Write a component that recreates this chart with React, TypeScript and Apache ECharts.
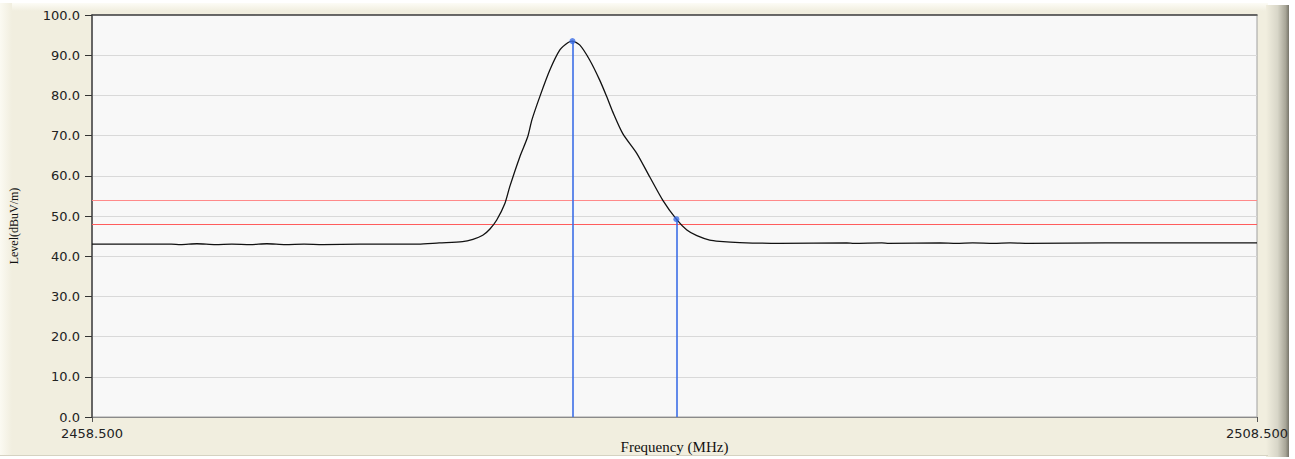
import React, { useEffect, useRef } from "react";
import * as echarts from "echarts";

// Spectrum trace (frequency in MHz, level in dBuV/m)
const freqMHz = [
  2458.5, 2460.0, 2461.9, 2462.3, 2463.0, 2463.8, 2464.5, 2465.3, 2466.0, 2466.8,
  2467.6, 2468.4, 2470.0, 2472.5, 2473.4, 2474.4, 2474.85, 2475.27, 2475.57, 2475.87,
  2476.22, 2476.43, 2476.86, 2477.2, 2477.38, 2477.72, 2478.15, 2478.58, 2478.92, 2479.12,
  2479.44, 2479.86, 2480.29, 2480.59, 2480.85, 2481.28, 2481.88, 2482.44, 2483.0, 2483.58,
  2484.03, 2484.46, 2485.01, 2485.44, 2486.3, 2488.0, 2490.9, 2491.2, 2492.4, 2492.7,
  2494.9, 2495.6, 2496.3, 2497.2, 2497.9, 2498.7, 2502.0, 2505.0, 2508.5,
];
const levelDb = [
  43.0, 43.0, 43.0, 42.9, 43.1, 42.9, 43.0, 42.9, 43.1, 42.9,
  43.0, 42.9, 43.0, 43.0, 43.3, 43.6, 44.2, 45.2, 46.7, 49.0,
  53.1, 57.3, 64.7, 69.7, 73.9, 79.7, 86.3, 91.3, 93.1, 93.5,
  92.5, 88.8, 83.8, 79.7, 75.9, 70.5, 65.6, 59.7, 53.9, 49.2,
  46.5, 45.1, 44.0, 43.7, 43.4, 43.2, 43.3, 43.2, 43.3, 43.2,
  43.3, 43.2, 43.3, 43.2, 43.3, 43.2, 43.3, 43.3, 43.3,
];

// Markers (peak and edge)
const markerFreq = [2479.12, 2483.58];
const markerLevel = [93.5, 49.2];

// Limit lines
const limitLevels = [54.0, 48.0];
const limitColors = ["#FF8A8A", "#FF5C5C"];

// Axes
const xMin = 2458.5;
const xMax = 2508.5;
const xTickValues = [2458.5, 2508.5];
const yMin = 0;
const yMax = 100;
const yStep = 10;

const BEIGE = "#F1EEDF";

export default function App() {
  const ref = useRef<HTMLDivElement>(null);

  useEffect(() => {
    if (!ref.current) return;
    const chart = echarts.init(ref.current, null, { renderer: "svg" });
    const trace = freqMHz.map((f, i) => [f, levelDb[i]]);
    const markers = markerFreq.map((f, i) => [f, markerLevel[i]]);

    chart.setOption({
      animation: false,
      backgroundColor: "#FFFFFF",
      graphic: [
        { type: "rect", z: -10, silent: true, shape: { x: 0, y: 3, width: 1268, height: 452 }, style: { fill: BEIGE } },
        {
          type: "rect", z: -9, silent: true,
          shape: { x: 0, y: 3, width: 1268, height: 8 },
          style: { fill: new echarts.graphic.LinearGradient(0, 0, 0, 1, [{ offset: 0, color: "#FDFCF6" }, { offset: 1, color: BEIGE }]) },
        },
        {
          type: "rect", z: -9, silent: true,
          shape: { x: 0, y: 3, width: 12, height: 452 },
          style: { fill: new echarts.graphic.LinearGradient(0, 0, 1, 0, [{ offset: 0, color: "#FBFAF2" }, { offset: 1, color: BEIGE }]) },
        },
        {
          type: "rect", z: -9, silent: true,
          shape: { x: 1266, y: 5, width: 23, height: 452 },
          style: {
            fill: new echarts.graphic.LinearGradient(0, 0, 1, 0, [
              { offset: 0, color: BEIGE },
              { offset: 0.5, color: "#D8D6C8" },
              { offset: 0.85, color: "#A8A698" },
              { offset: 1, color: "#77756A" },
            ]),
          },
        },
        { type: "rect", z: -9, silent: true, shape: { x: 0, y: 455, width: 1268, height: 1 }, style: { fill: "#D5D2C2" } },
      ],
      grid: {
        left: 92, top: 15, width: 1165, height: 402,
        outerBoundsMode: "none", containLabel: false,
        show: true, backgroundColor: "#F8F8F8", borderColor: "#A0A0A0", borderWidth: 1,
      },
      xAxis: [
        {
          type: "value", min: xMin, max: xMax,
          name: "Frequency (MHz)", nameLocation: "middle", nameGap: 22, nameMoveOverlap: false,
          nameTextStyle: { fontFamily: "Liberation Serif", fontSize: 15, color: "#111" },
          axisLine: { show: true, lineStyle: { color: "#8A8A8A", width: 1 } },
          axisTick: { show: true, length: 5, customValues: xTickValues, lineStyle: { color: "#555" } },
          axisLabel: {
            customValues: xTickValues, margin: 10,
            fontFamily: "DejaVu Sans", fontSize: 13, color: "#222",
            formatter: (v: number) => v.toFixed(3),
          },
          splitLine: { show: false },
        },
        {
          type: "value", position: "top", min: xMin, max: xMax,
          axisLine: { show: true, lineStyle: { color: "#444", width: 1.5 } },
          axisTick: { show: false }, axisLabel: { show: false }, splitLine: { show: false },
        },
      ],
      yAxis: {
        type: "value", min: yMin, max: yMax, interval: yStep,
        name: "Level(dBuV/m)", nameLocation: "middle", nameGap: 72, nameMoveOverlap: false,
        nameTextStyle: { fontFamily: "Liberation Serif", fontSize: 12, color: "#111", padding: [0, 20, 0, 0] },
        axisLine: { show: true, lineStyle: { color: "#444", width: 1.5 } },
        axisTick: { show: true, length: 7, inside: false, lineStyle: { color: "#333" } },
        axisLabel: {
          margin: 12, fontFamily: "DejaVu Sans", fontSize: 13, color: "#222",
          formatter: (v: number) => v.toFixed(1),
        },
        splitLine: { show: true, lineStyle: { color: "#D9D9D9", width: 1 } },
      },
      series: [
        {
          type: "line", data: trace, showSymbol: false, smooth: 0.25,
          lineStyle: { color: "#111", width: 1.3 }, z: 5,
          markLine: {
            silent: true, symbol: "none", label: { show: false },
            data: limitLevels.map((v, i) => ({ yAxis: v, lineStyle: { color: limitColors[i], width: 1, type: "solid" } })),
          },
        },
        {
          type: "scatter", data: markers, symbol: "circle", symbolSize: 6,
          itemStyle: { color: "#3C6EE6" }, z: 6,
          markLine: {
            silent: true, symbol: "none", label: { show: false },
            lineStyle: { color: "#3C6EE6", width: 1.6, type: "solid" },
            data: markers.map((m) => [{ coord: [m[0], m[1]] }, { coord: [m[0], yMin] }]),
          },
        },
      ],
    });
    return () => chart.dispose();
  }, []);

  return (
    <div
      ref={ref}
      style={{ position: "absolute", left: 0, top: 0, width: 1295, height: 459 }}
    />
  );
}
